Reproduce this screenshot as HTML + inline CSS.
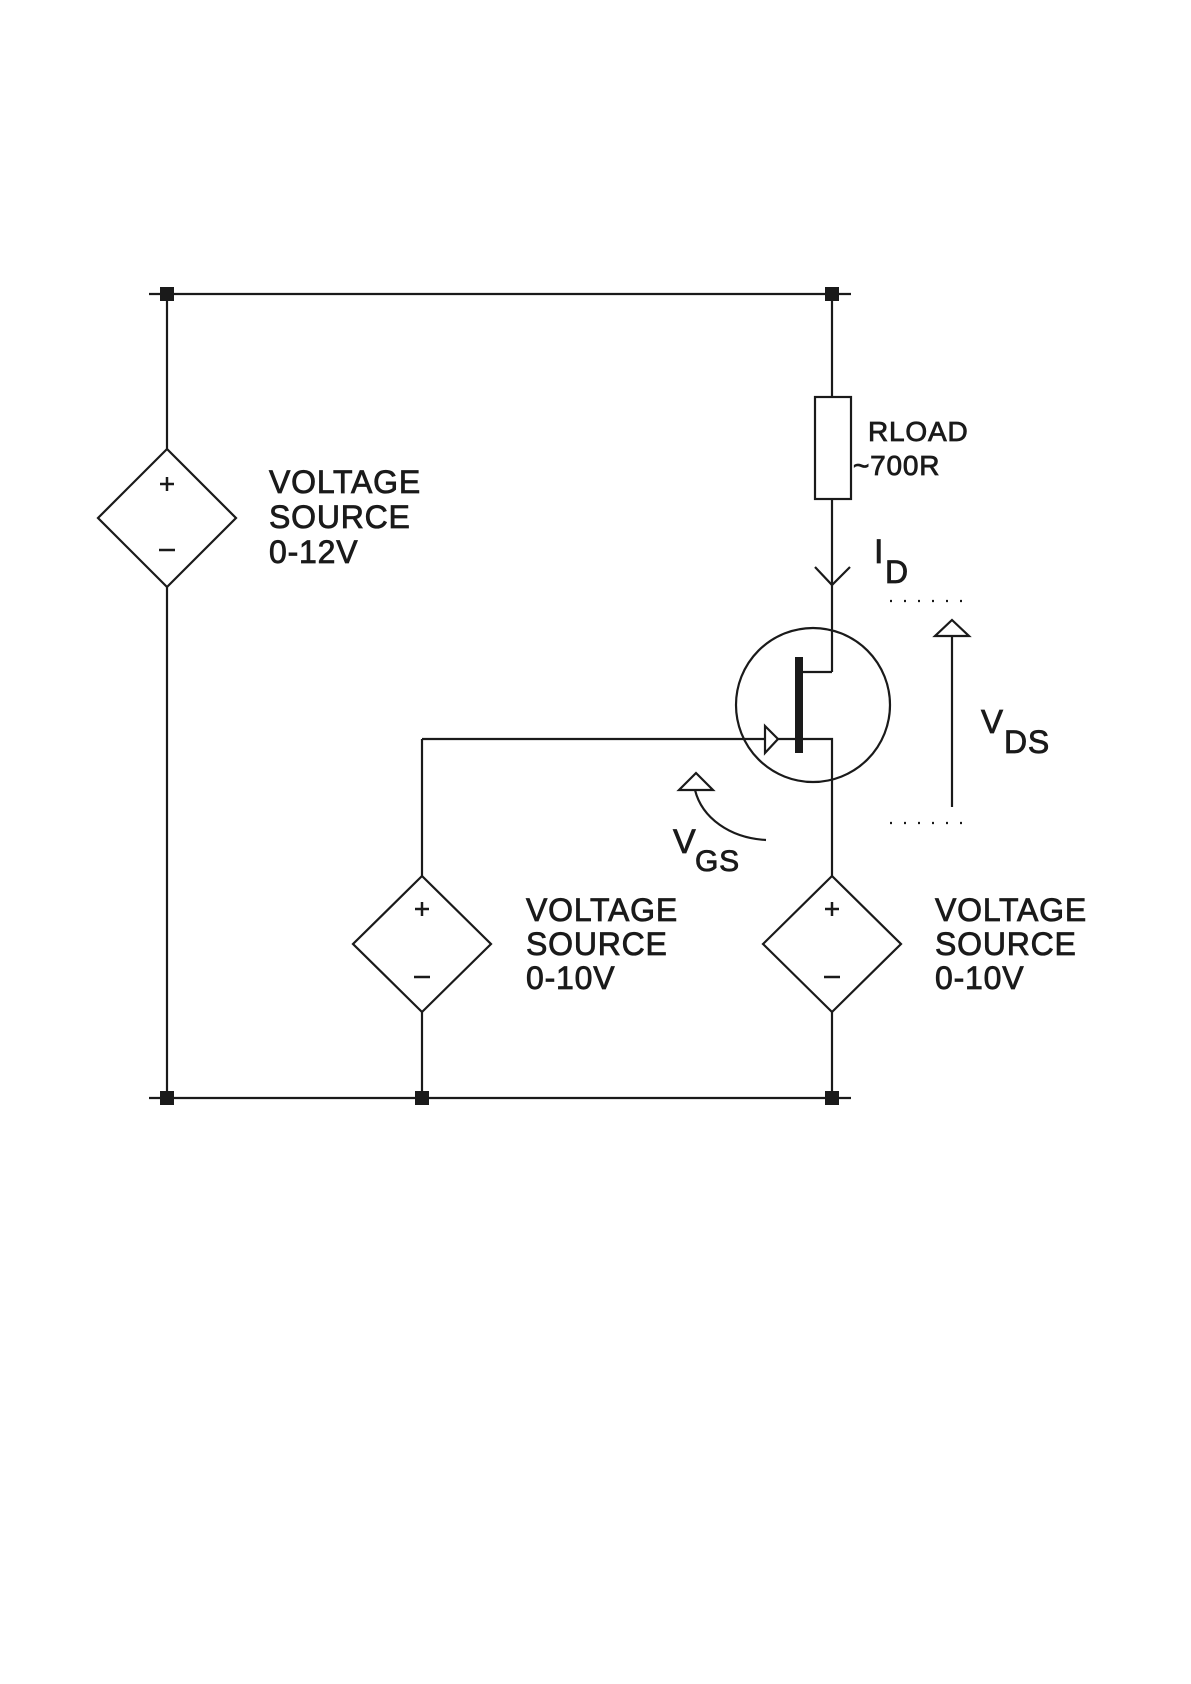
<!DOCTYPE html>
<html><head><meta charset="utf-8"><style>
html,body{margin:0;padding:0;background:#fff;}
svg{display:block;}
text{font-family:"Liberation Sans",Arial,sans-serif;fill:#1a1a1a;stroke:#1a1a1a;stroke-width:0.8;letter-spacing:0.8px;}
</style></head><body>
<svg width="1191" height="1684" viewBox="0 0 1191 1684" xmlns="http://www.w3.org/2000/svg">
<g stroke="#1a1a1a" stroke-width="2.2" fill="none">
<line x1="149" y1="294" x2="851" y2="294"/>
<line x1="149" y1="1098" x2="851" y2="1098"/>
<line x1="167" y1="294" x2="167" y2="449"/>
<line x1="167" y1="587" x2="167" y2="1098"/>
<polygon points="167,449 236,518 167,587 98,518"/>
<line x1="422" y1="739" x2="422" y2="876"/>
<line x1="422" y1="1012" x2="422" y2="1098"/>
<polygon points="422,876 491,944 422,1012 353,944"/>
<line x1="422" y1="739" x2="797" y2="739"/>
<polygon points="765,726 778,739 765,753" fill="#fff"/>
<line x1="832" y1="294" x2="832" y2="397"/>
<rect x="815" y="397" width="36" height="102"/>
<line x1="832" y1="499" x2="832" y2="672"/>
<polyline points="815,567 832,585 850,567"/>
<line x1="832" y1="672" x2="803" y2="672"/>
<polyline points="803,739 832,739 832,876"/>
<polygon points="832,876 901,944 832,1012 763,944"/>
<line x1="832" y1="1012" x2="832" y2="1098"/>
<circle cx="813" cy="705" r="77"/>
<line x1="952" y1="807" x2="952" y2="620"/>
<polygon points="952,620 969,636 935,636" fill="#fff"/>
<path d="M766,840 C730,838 702,818 695,790"/>
<polygon points="696,773 713,790 679,790" fill="#fff"/>
</g>
<rect x="795" y="657" width="8" height="96" fill="#1a1a1a"/>
<g fill="#1a1a1a">
<rect x="160" y="287" width="14" height="14"/>
<rect x="825" y="287" width="14" height="14"/>
<rect x="160" y="1091" width="14" height="14"/>
<rect x="415" y="1091" width="14" height="14"/>
<rect x="825" y="1091" width="14" height="14"/>
</g>
<g stroke="#1a1a1a" stroke-width="2.2" stroke-dasharray="2 12">
<line x1="890" y1="601" x2="964" y2="601"/>
<line x1="890" y1="823" x2="964" y2="823"/>
</g>
<g stroke="#1a1a1a" stroke-width="2.5">
<line x1="160" y1="484" x2="174" y2="484"/><line x1="167" y1="477" x2="167" y2="491"/>
<line x1="159" y1="550" x2="175" y2="550"/>
<line x1="415" y1="909" x2="429" y2="909"/><line x1="422" y1="902" x2="422" y2="916"/>
<line x1="414" y1="977" x2="430" y2="977"/>
<line x1="825" y1="909" x2="839" y2="909"/><line x1="832" y1="902" x2="832" y2="916"/>
<line x1="824" y1="977" x2="840" y2="977"/>
</g>
<g font-size="32">
<text x="269" y="493">VOLTAGE</text>
<text x="269" y="528">SOURCE</text>
<text x="269" y="563">0-12V</text>
<text x="526" y="921">VOLTAGE</text>
<text x="526" y="955">SOURCE</text>
<text x="526" y="989">0-10V</text>
<text x="935" y="921">VOLTAGE</text>
<text x="935" y="955">SOURCE</text>
<text x="935" y="989">0-10V</text>
</g>
<g font-size="28">
<text x="868" y="441">RLOAD</text>
<text x="853" y="475">~700R</text>
</g>
<text x="874" y="563" font-size="34">I</text>
<text x="885" y="583" font-size="32">D</text>
<text x="673" y="853" font-size="34">V</text>
<text x="695" y="871" font-size="30">GS</text>
<text x="981" y="733" font-size="33">V</text>
<text x="1004" y="753" font-size="32">DS</text>
</svg>
</body></html>
